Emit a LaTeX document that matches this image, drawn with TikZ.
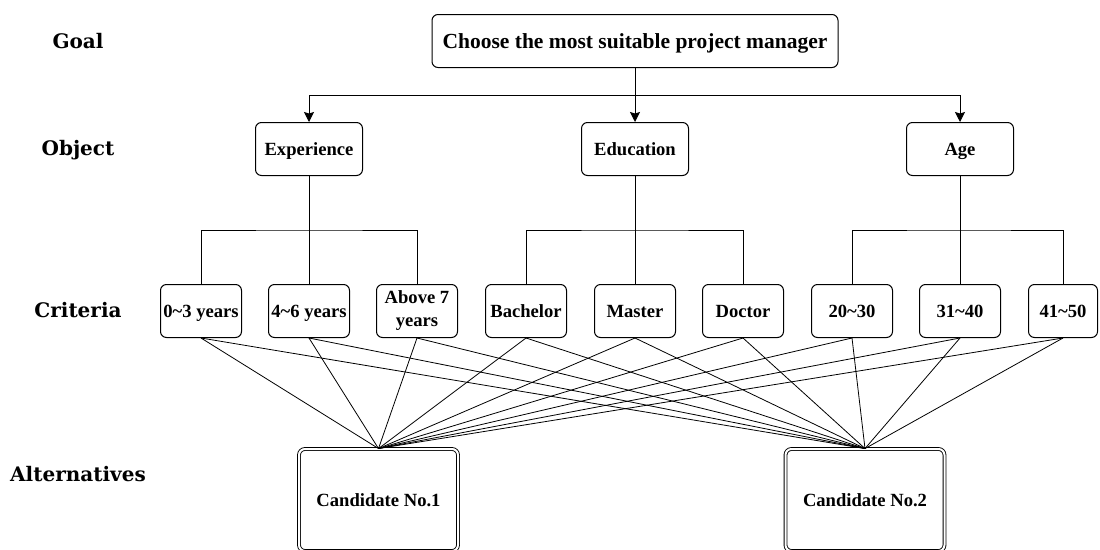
\documentclass[tikz,border=0pt]{standalone}
\usepackage{fontspec}
\setmainfont{Liberation Serif}
\newfontfamily\levelfont{DejaVu Serif}
\usepackage{tikz}
\usetikzlibrary{arrows.meta}
\tikzset{rbox/.style={draw,rounded corners=6pt,line width=1pt,inner sep=0pt,align=center,
  text height=17pt,text depth=4pt,font=\fontsize{18.6}{23}\selectfont\bfseries},
 goalbox/.style={rbox,minimum width=406pt,minimum height=53pt,text height=19.5pt,text depth=5pt,
  font=\fontsize{21.5}{24}\selectfont\bfseries},
 objbox/.style={rbox,minimum width=107pt,minimum height=53pt},
 critbox/.style={rbox,minimum width=81pt,minimum height=53pt},
 twolines/.style={text height={},text depth={}},
 altbox/.style={rbox,double,double distance=2pt,line width=0.9pt,minimum width=159pt,minimum height=102pt},
 level/.style={inner sep=0pt,text height=18pt,text depth=4.5pt,font=\levelfont\fontsize{20}{24}\selectfont\bfseries},
 link/.style={line width=1pt},
 thin link/.style={line width=0.8pt},
 arr/.style={link,-{Stealth[length=10pt,width=10pt,inset=1.5pt]}},
 }

\begin{document}
\begin{tikzpicture}[x=1pt,y=-1pt]
    \useasboundingbox (0,0) rectangle (1100,549);
    \node[level] (lgoal) at (78,42) {Goal};
    \node[level] (lobj) at (78,149) {Object};
    \node[level] (lcrit) at (78,311) {Criteria};
    \node[level] (lalt) at (78,475) {Alternatives};

    \node[goalbox] (goal) at (635,41) {Choose the most suitable project manager};
    \node[objbox] (exp) at (309,149) {Experience};
    \node[objbox] (edu) at (635,149) {Education};
    \node[objbox] (age) at (960,149) {Age};

    \node[critbox] (c1) at (201,311) {0\textasciitilde3 years};
    \node[critbox] (c2) at (309,311) {4\textasciitilde6 years};
    \node[critbox,twolines] (c3) at (417,311) {Above 7\\years};
    \node[critbox] (c4) at (526,311) {Bachelor};
    \node[critbox] (c5) at (635,311) {Master};
    \node[critbox] (c6) at (743,311) {Doctor};
    \node[critbox] (c7) at (852,311) {20\textasciitilde30};
    \node[critbox] (c8) at (960,311) {31\textasciitilde40};
    \node[critbox,minimum width=69pt] (c9) at (1063,311) {41\textasciitilde50};

    \node[altbox] (alt1) at (378.5,500) {Candidate No.1};
    \node[altbox] (alt2) at (865,500) {Candidate No.2};

    \coordinate (split) at (635,95);
    \draw[arr] (goal) -- (edu);
    \draw[arr] (split) -| (exp);
    \draw[arr] (split) -| (age);

    \foreach \p/\a/\b/\c in {exp/c1/c2/c3,edu/c4/c5/c6,age/c7/c8/c9}{
        \draw[link] (\p) -- (\b);
        \draw[link] (\a.north) |- (\b.north |- 0,230) -| (\c.north);
    }
    \foreach \i in {1,...,9}{
        \draw[thin link] (c\i.south) -- (alt1.north);
        \draw[thin link] (c\i.south) -- (alt2.north);
    }
\end{tikzpicture}
\end{document}
